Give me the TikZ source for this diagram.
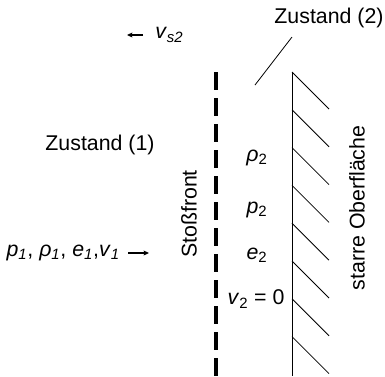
\documentclass[tikz,border=0pt]{standalone}
\usepackage{fontspec}
\setmainfont{Liberation Sans}
\usetikzlibrary{arrows.meta,calc}
\definecolor{ink}{HTML}{000000}
\newcommand{\lowsub}[1]{\textsubscript{#1}}
\tikzset{
  label/.style={font=\fontsize{16}{19}\selectfont,text=ink,inner sep=0pt},
  front/.style={draw=ink,line width=3pt,dash pattern=on 13.5pt off 6pt},
  wall/.style={draw=ink,line width=0.7pt},
  hatch/.style={draw=ink,line width=0.6pt},
  pointer/.style={draw=ink,line width=0.6pt},
  flow/.style={-{Stealth[length=4pt,width=3.6pt,inset=0.6pt]},draw=ink,line width=0.8pt},
}
\begin{document}
\begin{tikzpicture}[x=0.75pt,y=-0.75pt]
  \useasboundingbox (0,0) rectangle (385,376);

  % Shock front and rigid wall
  \coordinate (fronttop) at (216,72);
  \coordinate (frontbot) at (216,376);
  \coordinate (walltop) at (292,72);
  \coordinate (wallbot) at (292,376);
  \draw[front] (fronttop) -- (frontbot);
  \draw[wall] (walltop) -- (wallbot);
  \foreach \k in {0,...,7} {
    \draw[hatch] ($(walltop)+(0,37.8*\k)$) -- ++(37,37);
  }

  % Labels of the two states
  \node[label] (z1) at (100,145) {Zustand (1)};
  \node[label] (z2) at (329,18) {Zustand (2)};
  \coordinate (z2tip) at (292,37);
  \coordinate (z2foot) at (255,85);
  \draw[pointer] (z2tip) -- (z2foot);

  % Shock speed and inflow
  \node[label,anchor=west] (vs) at (155,35) {\textit{v}\lowsub{\textit{s2}}};
  \coordinate (vsend) at (127,35);
  \draw[flow] (vs.west) ++(-12,0) coordinate (vsstart) -- (vsend);
  \node[label,anchor=east] (state1) at (120,253)
    {\textit{p}\lowsub{\textit{1}}, \textit{ρ}\lowsub{\textit{1}}, \textit{e}\lowsub{\textit{1}},\textit{v}\lowsub{\textit{1}}};
  \coordinate (inflow) at (149,253);
  \draw[flow] (state1.east) ++(8,0) coordinate (inflowstart) -- (inflow);

  \node[label,rotate=90] (shock) at (189,214) {Stoßfront};
  \node[label,rotate=90] (rigid) at (357,208) {starre Oberfläche};

  % Quantities behind the front
  \node[label] (rho2) at (257,158) {\textit{ρ}\lowsub{2}};
  \node[label] (p2) at (257,210) {\textit{p}\lowsub{2}};
  \node[label] (e2) at (257,255) {\textit{e}\lowsub{2}};
  \node[label] (v2) at (256,299) {\textit{v}\lowsub{2} = 0};
\end{tikzpicture}
\end{document}
